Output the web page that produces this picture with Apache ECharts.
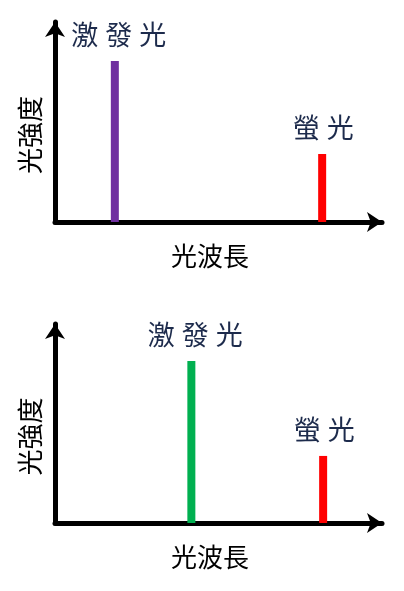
<!DOCTYPE html>
<html>
<head>
<meta charset="utf-8">
<script src="https://cdn.jsdelivr.net/npm/echarts@6/dist/echarts.min.js"></script>
<style>
html,body{margin:0;padding:0;background:#fff;}
#chart{width:404px;height:591px;}
</style>
</head>
<body>
<div id="chart"></div>
<script>
// ---- data ----
const xAxisName = '光波長';
const yAxisName = '光強度';
const peakNames = ['激發光', '螢光'];
// top panel (purple excitation)
const topWavelength = [18.3, 81.7];
const topIntensity = [80.5, 34];
// bottom panel (green excitation)
const bottomWavelength = [41.7, 82];
const bottomIntensity = [81.4, 33.7];

const topColors = ['#7030a0', '#ff0000'];
const bottomColors = ['#00b050', '#ff0000'];

const FONT = '"Noto Sans CJK TC", "Noto Sans CJK SC", sans-serif';
const LABEL_COLOR = '#1d2b4c';

function spaced(s) { return s.split('').join('{g| }'); }

function makeData(xs, ys, colors) {
  return xs.map((x, i) => ({
    value: [x, ys[i]],
    itemStyle: { color: colors[i] },
    label: {
      show: true,
      position: 'top',
      distance: 13,
      formatter: spaced(peakNames[i]),
      fontFamily: FONT,
      fontSize: 27,
      color: LABEL_COLOR,
      offset: [i === 0 ? 4 : 1, 0],
      rich: { g: { width: 7, fontSize: 27 } }
    }
  }));
}

const axisLine = {
  show: true,
  symbol: ['none', 'arrow'],
  symbolSize: [15, 15],
  lineStyle: { color: '#000', width: 5 }
};

function xAxisCfg(gi) {
  return {
    type: 'value', gridIndex: gi, min: 0, max: 100,
    name: xAxisName, nameLocation: 'middle', nameGap: 21,
    nameTextStyle: { fontFamily: FONT, fontSize: 26, color: '#000', verticalAlign: 'top', padding: [0, 17, 0, 0] },
    axisLine: axisLine, axisTick: { show: false }, axisLabel: { show: false }, splitLine: { show: false }
  };
}
function yAxisCfg(gi) {
  return {
    type: 'value', gridIndex: gi, min: 0, max: 100,
    name: yAxisName, nameLocation: 'middle', nameGap: 12, nameRotate: 90,
    nameTextStyle: { fontFamily: FONT, fontSize: 26, color: '#000', verticalAlign: 'bottom', padding: [0, 26, 0, 0] },
    axisLine: axisLine, axisTick: { show: false }, axisLabel: { show: false }, splitLine: { show: false }
  };
}

const chart = echarts.init(document.getElementById('chart'), null, { renderer: 'canvas' });
chart.setOption({
  backgroundColor: '#fff',
  animation: false,
  grid: [
    { left: 55, right: 22, top: 22, bottom: 369 },
    { left: 55, right: 22, top: 324, bottom: 68 }
  ],
  xAxis: [xAxisCfg(0), xAxisCfg(1)],
  yAxis: [yAxisCfg(0), yAxisCfg(1)],
  series: [
    { type: 'bar', xAxisIndex: 0, yAxisIndex: 0, barWidth: 8, data: makeData(topWavelength, topIntensity, topColors) },
    { type: 'bar', xAxisIndex: 1, yAxisIndex: 1, barWidth: 8, data: makeData(bottomWavelength, bottomIntensity, bottomColors) }
  ]
});
</script>
</body>
</html>
